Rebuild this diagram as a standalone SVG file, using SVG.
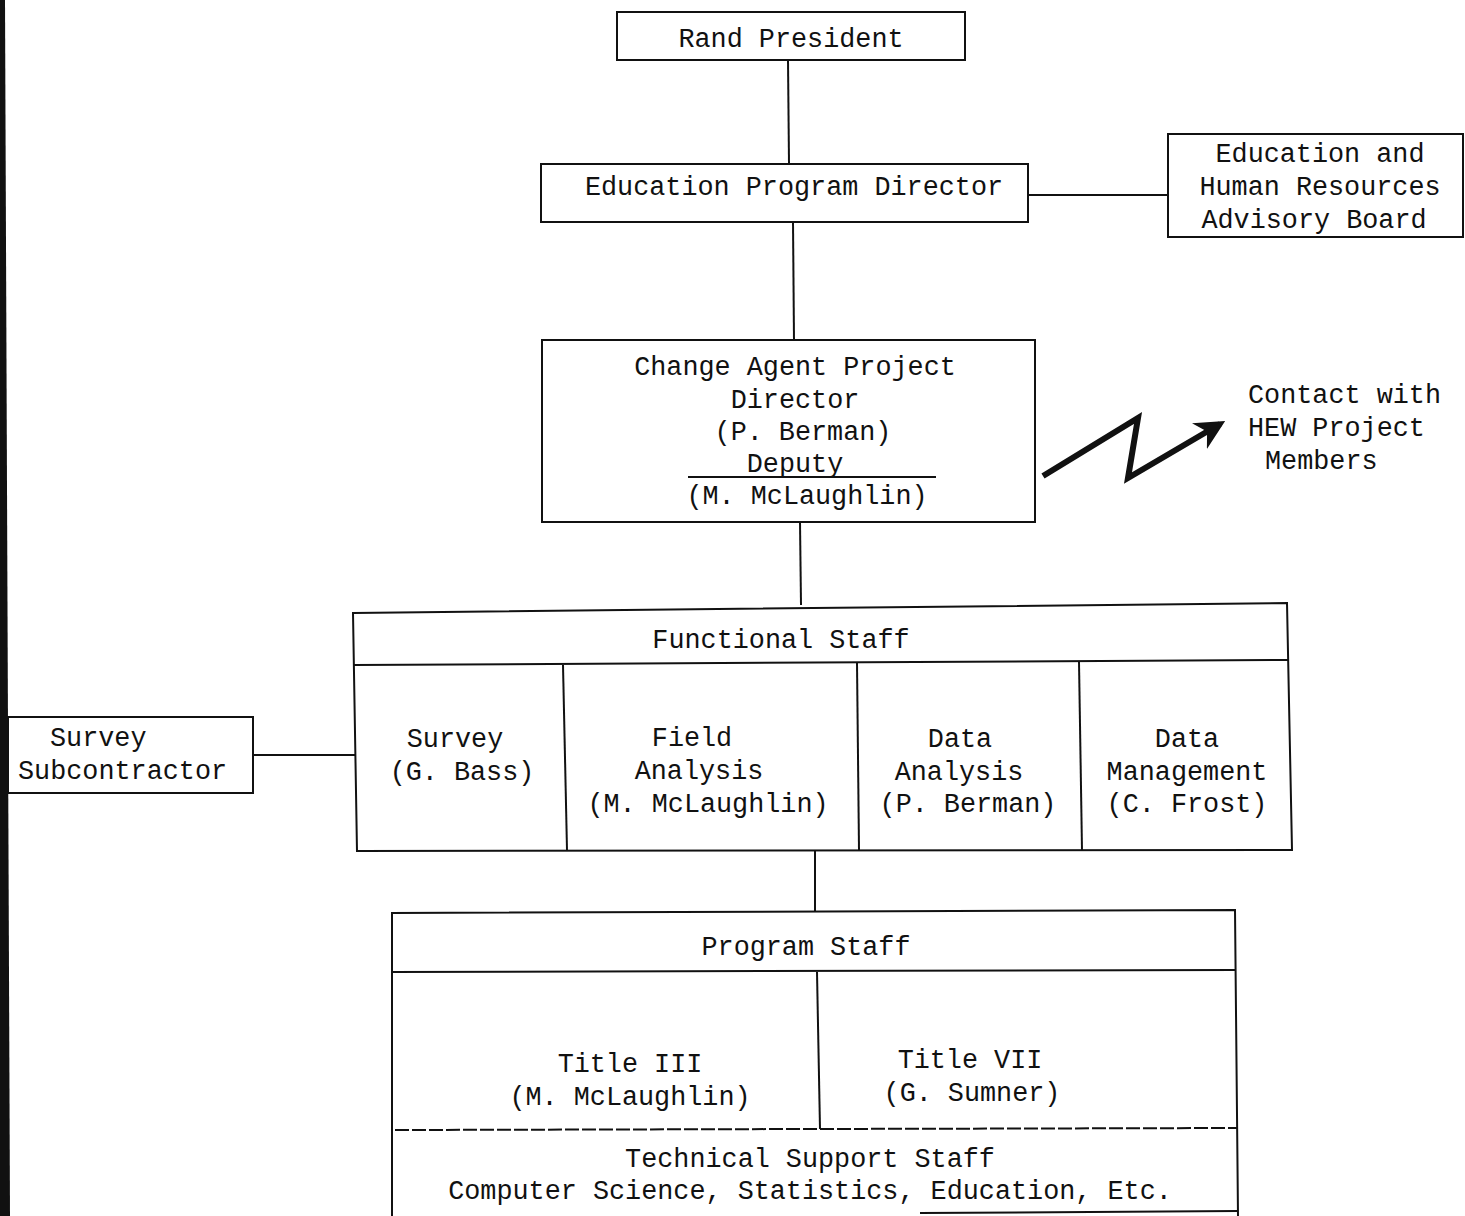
<svg xmlns="http://www.w3.org/2000/svg" width="1465" height="1216" viewBox="0 0 1465 1216">
<style>
.bx{fill:none;stroke:#111;stroke-width:2}
.ln{fill:none;stroke:#111;stroke-width:2}
.t{font-family:"Liberation Mono","DejaVu Sans Mono",monospace;font-size:26.8px;fill:#111;text-anchor:middle}
.ts{font-family:"Liberation Mono","DejaVu Sans Mono",monospace;font-size:26.8px;fill:#111}
</style>
<defs>
<marker id="ah" viewBox="0 0 10 10" refX="8" refY="5" markerWidth="5" markerHeight="5" orient="auto" markerUnits="strokeWidth">
<path d="M0,0 L10,5 L0,10 L3,5 Z" fill="#111"/>
</marker>
</defs>
<rect width="1465" height="1216" fill="#fff"/>
<polygon points="0,0 5,0 10,1216 0,1216" fill="#111"/>

<g id="connectors">
<line class="ln" x1="788" y1="60" x2="789" y2="164"/>
<line class="ln" x1="1028" y1="195" x2="1168" y2="195"/>
<line class="ln" x1="793" y1="222" x2="794" y2="340"/>
<line class="ln" x1="800" y1="522" x2="801" y2="605"/>
<line class="ln" x1="253" y1="755" x2="355" y2="755"/>
<line class="ln" x1="815" y1="850" x2="815" y2="912"/>
<polyline points="1043,476 1138,418 1128,478 1220,424" fill="none" stroke="#111" stroke-width="6" stroke-linejoin="miter" marker-end="url(#ah)"/>
</g>

<g id="rand-president">
<rect class="bx" x="617" y="12" width="348" height="48"/>
<text class="t" x="791" y="47">Rand President</text>
</g>

<g id="education-program-director">
<rect class="bx" x="541" y="164" width="487" height="58"/>
<text class="t" x="794" y="195">Education Program Director</text>
</g>

<g id="advisory-board">
<rect class="bx" x="1168" y="134" width="295" height="103"/>
<text class="t" x="1320" y="162">Education and</text>
<text class="t" x="1320" y="195">Human Resources</text>
<text class="t" x="1314" y="228">Advisory Board</text>
</g>

<g id="change-agent-director">
<rect class="bx" x="542" y="340" width="493" height="182"/>
<text class="t" x="795" y="375">Change Agent Project</text>
<text class="t" x="795" y="408">Director</text>
<text class="t" x="803" y="440">(P. Berman)</text>
<text class="t" x="795" y="472">Deputy</text>
<line class="ln" x1="688" y1="477" x2="936" y2="477" stroke-width="1.5"/>
<text class="t" x="807" y="504">(M. McLaughlin)</text>
</g>

<g id="contact-hew">
<text class="ts" x="1248" y="403">Contact with</text>
<text class="ts" x="1248" y="436">HEW Project</text>
<text class="ts" x="1265" y="469">Members</text>
</g>

<g id="functional-staff">
<polygon class="bx" points="353,613 1287,603 1292,850 357,851"/>
<line class="ln" x1="353" y1="665" x2="1288" y2="660"/>
<line class="ln" x1="563" y1="665" x2="567" y2="850"/>
<line class="ln" x1="857" y1="663" x2="859" y2="850"/>
<line class="ln" x1="1079" y1="662" x2="1082" y2="850"/>
<text class="t" x="781" y="648">Functional Staff</text>
<text class="t" x="455" y="747">Survey</text>
<text class="t" x="462" y="780">(G. Bass)</text>
<text class="t" x="692" y="746">Field</text>
<text class="t" x="699" y="779">Analysis</text>
<text class="t" x="708" y="812">(M. McLaughlin)</text>
<text class="t" x="960" y="747">Data</text>
<text class="t" x="959" y="780">Analysis</text>
<text class="t" x="968" y="812">(P. Berman)</text>
<text class="t" x="1187" y="747">Data</text>
<text class="t" x="1187" y="780">Management</text>
<text class="t" x="1187" y="812">(C. Frost)</text>
</g>

<g id="survey-subcontractor">
<rect class="bx" x="8" y="717" width="245" height="76"/>
<text class="ts" x="50" y="746">Survey</text>
<text class="ts" x="18" y="779">Subcontractor</text>
</g>

<g id="program-staff">
<polyline class="bx" points="392,1216 392,913 1235,910 1238,1216"/>
<line class="ln" x1="392" y1="972" x2="1235" y2="970"/>
<line class="ln" x1="817" y1="972" x2="820" y2="1129"/>
<line class="ln" x1="395" y1="1130" x2="1237" y2="1128" stroke-dasharray="14,3"/>
<line class="ln" x1="920" y1="1213" x2="1238" y2="1211"/>
<text class="t" x="806" y="955">Program Staff</text>
<text class="t" x="630" y="1072">Title III</text>
<text class="t" x="630" y="1105">(M. McLaughlin)</text>
<text class="t" x="970" y="1068">Title VII</text>
<text class="t" x="972" y="1101">(G. Sumner)</text>
<text class="t" x="810" y="1167">Technical Support Staff</text>
<text class="t" x="810" y="1199">Computer Science, Statistics, Education, Etc.</text>
</g>
</svg>
